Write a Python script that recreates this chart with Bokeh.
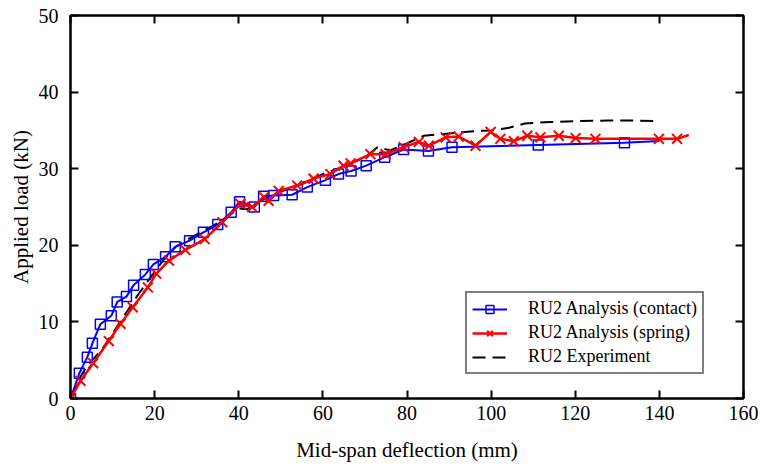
from bokeh.plotting import figure
from bokeh.models import (LinearAxis, Range1d, Legend, LegendItem, SingleIntervalTicker,
                          CustomJSTickFormatter)
from bokeh.embed import file_html
from bokeh.resources import INLINE

# ---- data ----
contact_x = [0, 2.1, 4.0, 5.2, 7.1, 9.7, 11.1, 13.3, 15.0, 17.8, 19.7, 22.6, 24.9, 28.3, 31.6, 35.0,
             38.2, 40.2, 43.7, 45.9, 48.3, 52.7, 56.3, 60.6, 63.7, 66.7, 70.3, 74.7, 79.2, 85.1,
             90.7, 111.2, 131.7, 140.0]
contact_y = [0, 3.3, 5.4, 7.2, 9.7, 10.8, 12.6, 13.3, 14.8, 16.2, 17.5, 18.5, 19.8, 20.6, 21.7, 22.7,
             24.3, 25.7, 25.0, 26.4, 26.5, 26.6, 27.6, 28.5, 29.3, 29.7, 30.4, 31.5, 32.5, 32.3,
             32.8, 33.1, 33.4, 33.6]

spring_x = [0, 2.4, 5.4, 9.1, 11.9, 14.8, 18.4, 20.4, 23.4, 27.3, 31.9, 36.1, 40.4, 43.2, 46.0, 47.1,
            49.5, 53.9, 57.8, 61.8, 64.9, 66.6, 71.3, 74.9, 79.2, 82.8, 85.2, 89.2, 92.3, 96.3,
            99.9, 102.2, 105.4, 108.6, 111.7, 116.1, 120.1, 124.8, 139.9, 144.2, 147.0]
spring_y = [0, 2.3, 4.6, 7.5, 9.75, 11.9, 14.5, 16.3, 18.0, 19.4, 20.8, 23.0, 25.4, 25.0, 26.3, 25.8,
            27.1, 27.8, 28.7, 29.3, 30.4, 30.7, 31.9, 31.9, 32.8, 33.5, 33.0, 34.1, 34.2, 33.0,
            34.8, 33.9, 33.6, 34.3, 34.1, 34.3, 34.0, 33.9, 33.9, 33.9, 34.4]

exp_x = [0, 2, 4, 6, 8, 10, 13, 16, 19, 22, 25, 28, 32, 36, 40, 42, 45, 50, 55, 60, 65, 70, 73, 76,
         80, 84, 88, 92, 96, 100, 104, 108, 114, 120, 128, 134, 140]
exp_y = [0, 2.5, 4.3, 5.5, 6.8, 8.5, 11.0, 13.5, 15.8, 18.0, 19.8, 20.8, 22.0, 23.2, 24.8, 24.7, 25.8,
         27.0, 28.0, 29.3, 30.3, 31.5, 32.8, 32.4, 33.3, 34.3, 34.5, 34.7, 34.9, 35.0, 35.3, 35.9,
         36.1, 36.2, 36.3, 36.3, 36.2]

labels = ["RU2 Analysis (contact)", "RU2 Analysis (spring)", "RU2 Experiment"]
x_label = "Mid-span deflection (mm)"
y_label = "Applied load (kN)"

FONT = "Liberation Serif"

p = figure(width=761, height=469, output_backend="svg", toolbar_location=None,
           x_range=Range1d(0, 160), y_range=Range1d(0, 50),
           min_border_left=70, min_border_right=18, min_border_top=15, min_border_bottom=71)
p.xgrid.visible = False
p.ygrid.visible = False
p.outline_line_color = "black"
p.outline_line_width = 2
p.background_fill_color = "white"
p.border_fill_color = "white"

exp_r = p.line(exp_x, exp_y, line_color="black", line_width=2, line_dash="13 7")
c_line = p.line(contact_x, contact_y, line_color="#0000FF", line_width=2)
c_mark = p.scatter(contact_x[:-1], contact_y[:-1], marker="square", size=10,
                   line_color="#0000FF", fill_color=None, line_width=1.5)
s_line = p.line(spring_x, spring_y, line_color="#FF0000", line_width=2.5)
s_mark = p.scatter(spring_x[:-1], spring_y[:-1], marker="x", size=14,
                   line_color="#FF0000", line_width=2)


def style_axis(ax, interval, show_labels=True):
    ax.ticker = SingleIntervalTicker(interval=interval)
    ax.minor_tick_line_color = None
    ax.major_tick_in = 8
    ax.major_tick_out = 0
    ax.major_tick_line_width = 2
    ax.major_tick_line_color = "black"
    ax.axis_line_width = 2
    ax.axis_line_color = "black"
    ax.major_label_text_font = FONT
    ax.major_label_text_color = "black"
    ax.major_label_text_font_size = "20px"
    if not show_labels:
        ax.formatter = CustomJSTickFormatter(code="return ''")
        ax.major_label_standoff = 0


xb = p.xaxis[0]
yl = p.yaxis[0]
style_axis(xb, 20)
style_axis(yl, 10)
xb.major_label_standoff = 3
yl.major_label_standoff = 8
xb.axis_label = x_label
yl.axis_label = y_label
for ax in (xb, yl):
    ax.axis_label_text_font = FONT
    ax.axis_label_text_font_size = "21px"
    ax.axis_label_text_font_style = "normal"
    ax.axis_label_text_color = "black"
xb.axis_label_standoff = 15
yl.axis_label_standoff = 3

xt = LinearAxis()
yr = LinearAxis()
style_axis(xt, 20, show_labels=False)
style_axis(yr, 10, show_labels=False)
p.add_layout(xt, "above")
p.add_layout(yr, "right")

legend = Legend(items=[
    LegendItem(label=labels[0], renderers=[c_line, c_mark]),
    LegendItem(label=labels[1], renderers=[s_line, s_mark]),
    LegendItem(label=labels[2], renderers=[exp_r]),
], location=(395, 24))
legend.label_text_font = FONT
legend.label_text_font_size = "18px"
legend.label_text_color = "black"
legend.border_line_color = "black"
legend.border_line_width = 2
legend.background_fill_color = "white"
legend.background_fill_alpha = 1
legend.glyph_width = 35
legend.glyph_height = 20
legend.label_height = 20
legend.label_standoff = 21
legend.padding = 5
legend.spacing = 3
legend.margin = 0
p.add_layout(legend, "center")

open("out.html", "w").write(file_html(p, INLINE))
